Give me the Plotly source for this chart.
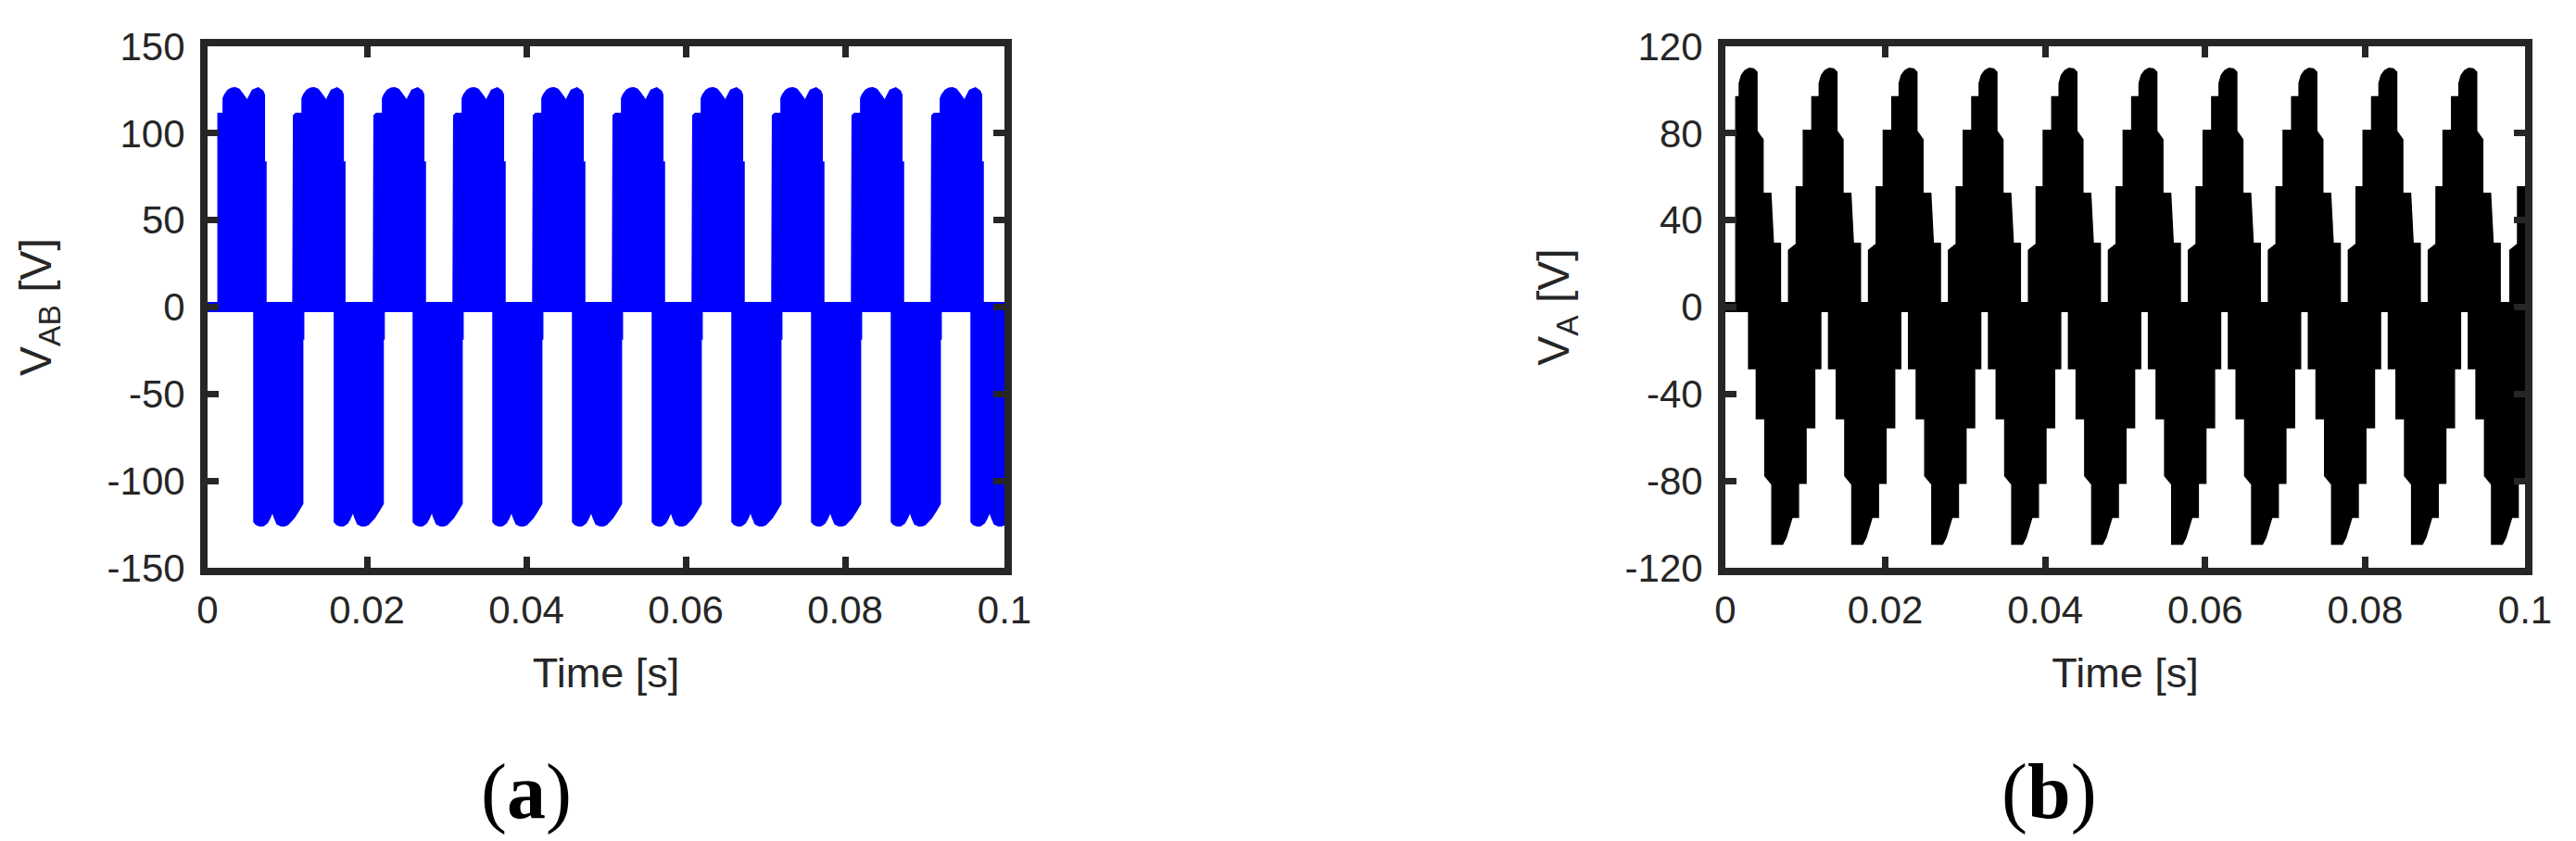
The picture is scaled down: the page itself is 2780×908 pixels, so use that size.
import plotly.graph_objects as go

# ---------------- data ----------------
switch_on = 0.0014          # first visible switching instant [s]
t_end = 0.1

x_tickvals = [0, 0.02, 0.04, 0.06, 0.08, 0.1]
x_ticktext = ["0", "0.02", "0.04", "0.06", "0.08", "0.1"]
a_yticks = [-150, -100, -50, 0, 50, 100, 150]
a_yticktext = ["-150", "-100", "-50", "0", "50", "100", "150"]
b_yticks = [-120, -80, -40, 0, 40, 80, 120]
b_yticktext = ["-120", "-80", "-40", "0", "40", "80", "120"]

# (a) line voltage V_AB : start times of the positive / negative pulse groups [s]
a_pos_start = [0.0009, 0.0108, 0.0209, 0.0309, 0.0409, 0.0509, 0.0609, 0.0709, 0.0809, 0.0909]
a_neg_start = [0.0059, 0.0160, 0.0259, 0.0359, 0.0459, 0.0559, 0.0659, 0.0759, 0.0859, 0.0959]
# envelope of one positive group: time after group start [s], voltage [V]
a_pos_env_t = [0, 0, 0.00008, 0.0003, 0.00115, 0.00115, 0.00134, 0.00173, 0.00215, 0.00257,
               0.0030, 0.00334, 0.00396, 0.00411, 0.0043, 0.0048, 0.00545, 0.00595,
               0.00614, 0.00614, 0.00634, 0.00634]
a_pos_env_v = [0, 30, 110, 111, 111, 120, 122, 124.5, 125.5, 125.7,
               125, 123, 119, 116.5, 120, 124.5, 125.7, 124,
               122, 83, 83, 0]
# envelope of one negative group
a_neg_env_t = [0, 0, 0.00027, 0.00065, 0.00104, 0.0015, 0.0018, 0.00219, 0.00227, 0.00257,
               0.0029, 0.00334, 0.00375, 0.00411, 0.00488, 0.00545, 0.00595, 0.00595,
               0.00607, 0.00607]
a_neg_env_v = [0, -123.4, -124.8, -125.5, -125.5, -124, -121.5, -117.5, -116.7, -121,
               -124.5, -125.5, -125.5, -124.8, -121, -117, -113, -18,
               -18, 0]

# (b) phase voltage V_A : start times of the positive / negative staircase lobes [s]
b_pos_start = [-0.0020, 0.0080, 0.0180, 0.0280, 0.0380, 0.0480, 0.0580, 0.0680, 0.0780, 0.0880, 0.0982]
b_neg_start = [0.0030, 0.0130, 0.0230, 0.0330, 0.0430, 0.0530, 0.0630, 0.0730, 0.0830, 0.0930]
b_pos_env_t = [0, 0, 0.00084, 0.00096, 0.00096, 0.00184, 0.00184, 0.00291, 0.00291, 0.00383,
               0.00383, 0.0041, 0.0045, 0.0050, 0.0055, 0.00586, 0.00586, 0.00631, 0.00662,
               0.00662, 0.0076, 0.00792, 0.0088, 0.0088]
b_pos_env_v = [0, 26, 28.5, 28.5, 55, 55, 81, 81, 96.5, 96.5,
               103, 106.5, 108.5, 109.5, 109.3, 108, 81, 78.5, 77,
               52, 52, 29, 29, 0]
b_neg_env_t = [0, 0, 0.00096, 0.00096, 0.00203, 0.00203, 0.0028, 0.00291, 0.00291, 0.0041,
               0.0045, 0.0050, 0.00528, 0.00605, 0.00605, 0.0070, 0.0070, 0.00808, 0.00808,
               0.00884, 0.00884]
b_neg_env_v = [0, -28, -28, -51, -51, -77.6, -81, -81, -108.8, -108.8,
               -106, -100, -96.4, -96.4, -80.8, -80.8, -55.2, -55.2, -28,
               -28, 0]

# ---------------- helpers ----------------
def value_at(ts, vs, x):
    for i in range(len(ts) - 1):
        if ts[i] <= x <= ts[i + 1] and ts[i + 1] > ts[i]:
            f = (x - ts[i]) / (ts[i + 1] - ts[i])
            return vs[i] + f * (vs[i + 1] - vs[i])
    return 0.0


def group_polygons(starts, env_t, env_v, lo, hi):
    xs, ys = [], []
    for s in starts:
        t = [s + r for r in env_t]
        if t[-1] <= lo or t[0] >= hi:
            continue
        a = max(t[0], lo)
        b = min(t[-1], hi)
        px, py = [], []
        if a > t[0]:
            px += [a, a]
            py += [0, value_at(t, env_v, a)]
        for ti, vi in zip(t, env_v):
            inside = a < ti < b
            if (ti == t[0] and a == t[0]) or (ti == t[-1] and b == t[-1]):
                inside = True
            if inside:
                px.append(ti)
                py.append(vi)
        if b < t[-1]:
            px += [b, b]
            py += [value_at(t, env_v, b), 0]
        xs += px + [None]
        ys += py + [None]
    return xs, ys


BLUE = "#0000FF"
BLACK = "#000000"
AX = "#262626"

fig = go.Figure()


def add_wave(starts_pos, tp, vp, starts_neg, tn, vn, color, xa, ya):
    for starts, et, ev in ((starts_pos, tp, vp), (starts_neg, tn, vn)):
        xs, ys = group_polygons(starts, et, ev, switch_on, t_end)
        fig.add_trace(go.Scatter(x=xs, y=ys, mode="lines", fill="toself",
                                 fillcolor=color, line=dict(color=color, width=3),
                                 xaxis=xa, yaxis=ya, showlegend=False, hoverinfo="skip"))
    fig.add_trace(go.Scatter(x=[0, t_end], y=[0, 0], mode="lines",
                             line=dict(color=color, width=11),
                             xaxis=xa, yaxis=ya, showlegend=False, hoverinfo="skip"))


add_wave(a_pos_start, a_pos_env_t, a_pos_env_v, a_neg_start, a_neg_env_t, a_neg_env_v, BLUE, "x", "y")
add_wave(b_pos_start, b_pos_env_t, b_pos_env_v, b_neg_start, b_neg_env_t, b_neg_env_v, BLACK, "x2", "y2")

W, H = 2780, 908
tickfont = dict(family="Liberation Sans, Arial", size=42, color=AX)
titlefont = dict(family="Liberation Sans, Arial", size=45, color=AX)
ytitlefont = dict(family="Liberation Sans, Arial", size=48, color=AX)

common_x = dict(range=[0, 0.1], tickvals=x_tickvals, ticktext=x_ticktext,
                ticks="inside", ticklen=12, tickwidth=7, tickcolor=AX,
                showline=True, linewidth=8, linecolor=AX, mirror="ticks",
                showgrid=False, zeroline=False, tickfont=tickfont, automargin=False,
                ticklabelstandoff=2,
                title=dict(text="Time [s]", font=titlefont, standoff=32))
common_y = dict(ticks="inside", ticklen=12, tickwidth=7, tickcolor=AX,
                showline=True, linewidth=8, linecolor=AX, mirror="ticks",
                showgrid=False, zeroline=False, tickfont=tickfont, automargin=False,
                ticklabelstandoff=8)

ydom = [1 - 605 / H, 1 - 42 / H]
fig.update_layout(
    width=W, height=H, margin=dict(l=0, r=0, t=0, b=0, autoexpand=False),
    paper_bgcolor="white", plot_bgcolor="white",
    xaxis=dict(domain=[216 / W, 1076 / W], anchor="y", **common_x),
    yaxis=dict(domain=ydom, anchor="x", range=[-150, 150], tickvals=a_yticks,
               ticktext=a_yticktext,
               title=dict(text="V<sub>AB</sub> [V]", font=ytitlefont, standoff=48), **common_y),
    xaxis2=dict(domain=[1854 / W, 2717 / W], anchor="y2", **common_x),
    yaxis2=dict(domain=ydom, anchor="x2", range=[-120, 120], tickvals=b_yticks,
                ticktext=b_yticktext,
                title=dict(text="V<sub>A</sub> [V]", font=ytitlefont, standoff=48), **common_y),
    annotations=[
        dict(text="(<b>a</b>)", x=560 / W, y=1 - 847 / H, xref="paper", yref="paper",
             showarrow=False, xanchor="center", yanchor="middle",
             font=dict(family="Liberation Serif, Times New Roman", size=84, color="black")),
        dict(text="(<b>b</b>)", x=2203 / W, y=1 - 847 / H, xref="paper", yref="paper",
             showarrow=False, xanchor="center", yanchor="middle",
             font=dict(family="Liberation Serif, Times New Roman", size=84, color="black")),
    ],
)

fig.write_html("out.html")
